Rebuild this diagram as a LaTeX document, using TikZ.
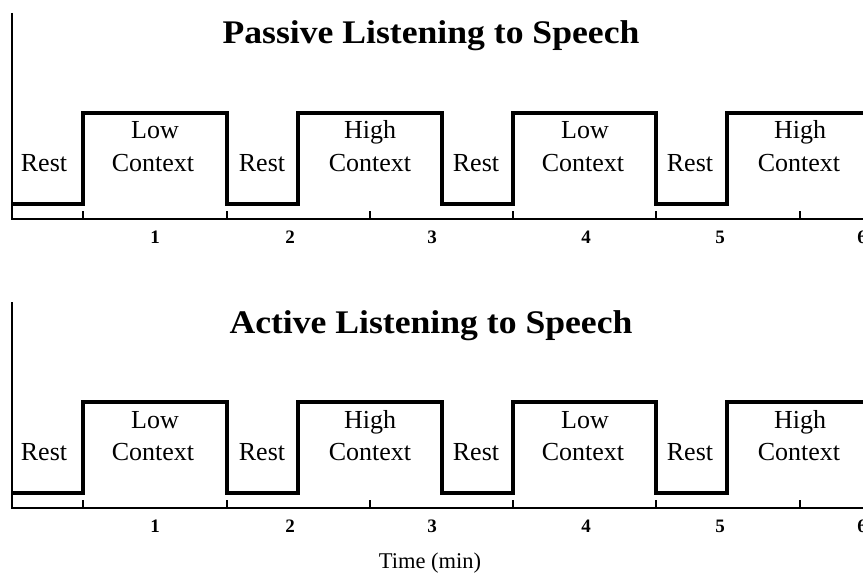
\documentclass[tikz,border=0pt]{standalone}
\usepackage{fontspec}
\setmainfont{Liberation Serif}
\begin{document}
\begin{tikzpicture}[x=1pt,y=-1pt,
  sig/.style={line width=3.2pt, line join=miter},
  axisline/.style={line width=1.6pt},
  lbl/.style={font=\fontsize{26}{30}\selectfont, anchor=base, inner sep=0pt},
  ttl/.style={font=\fontsize{33}{40}\selectfont\bfseries, anchor=base, inner sep=0pt, xscale=1.08},
  tck/.style={font=\fontsize{19}{24}\selectfont\bfseries, anchor=base, inner sep=0pt}]
\useasboundingbox (0,0) rectangle (863,578);
\foreach \p/\o/\t in {1/0/Passive, 2/289/Active} {
  \begin{scope}[yshift=-\o pt]
    \coordinate (top\p) at (12,13);
    \coordinate (org\p) at (12,219);
    \coordinate (end\p) at (863,219);
    \draw[axisline] (top\p) -- (org\p) -- (end\p);
    \foreach \x in {83,227,370,513,656,800}
      \draw[axisline] (\x,219) -- (\x,211);
    \draw[sig] (12,204) -| (83,113) -| (227,204) -| (298,113) -| (442,204)
      -| (513,113) -| (656,204) -| (727,113) -- (866,113);
    \node[ttl] (title\p) at (431,44) {\t{} Listening to Speech};
    \node[lbl] (rA\p) at (44,171) {Rest};
    \node[lbl] (rB\p) at (262,171) {Rest};
    \node[lbl] (rC\p) at (476,171) {Rest};
    \node[lbl] (rD\p) at (690,171) {Rest};
    \node[lbl] (tA\p) at (155,139) {Low};
    \node[lbl] (cA\p) at (153,171) {Context};
    \node[lbl] (tB\p) at (370,139) {High};
    \node[lbl] (cB\p) at (370,171) {Context};
    \node[lbl] (tC\p) at (585,139) {Low};
    \node[lbl] (cC\p) at (583,171) {Context};
    \node[lbl] (tD\p) at (800,139) {High};
    \node[lbl] (cD\p) at (799,171) {Context};
    \node[tck] (n1\p) at (155,243) {1};
    \node[tck] (n2\p) at (290,243) {2};
    \node[tck] (n3\p) at (432,243) {3};
    \node[tck] (n4\p) at (586,243) {4};
    \node[tck] (n5\p) at (720,243) {5};
    \node[tck] (n6\p) at (862,243) {6};
  \end{scope}
}
\node[lbl, font=\fontsize{22.5}{28}\selectfont] (xlabel) at (430,568) {Time (min)};
\end{tikzpicture}
\end{document}
